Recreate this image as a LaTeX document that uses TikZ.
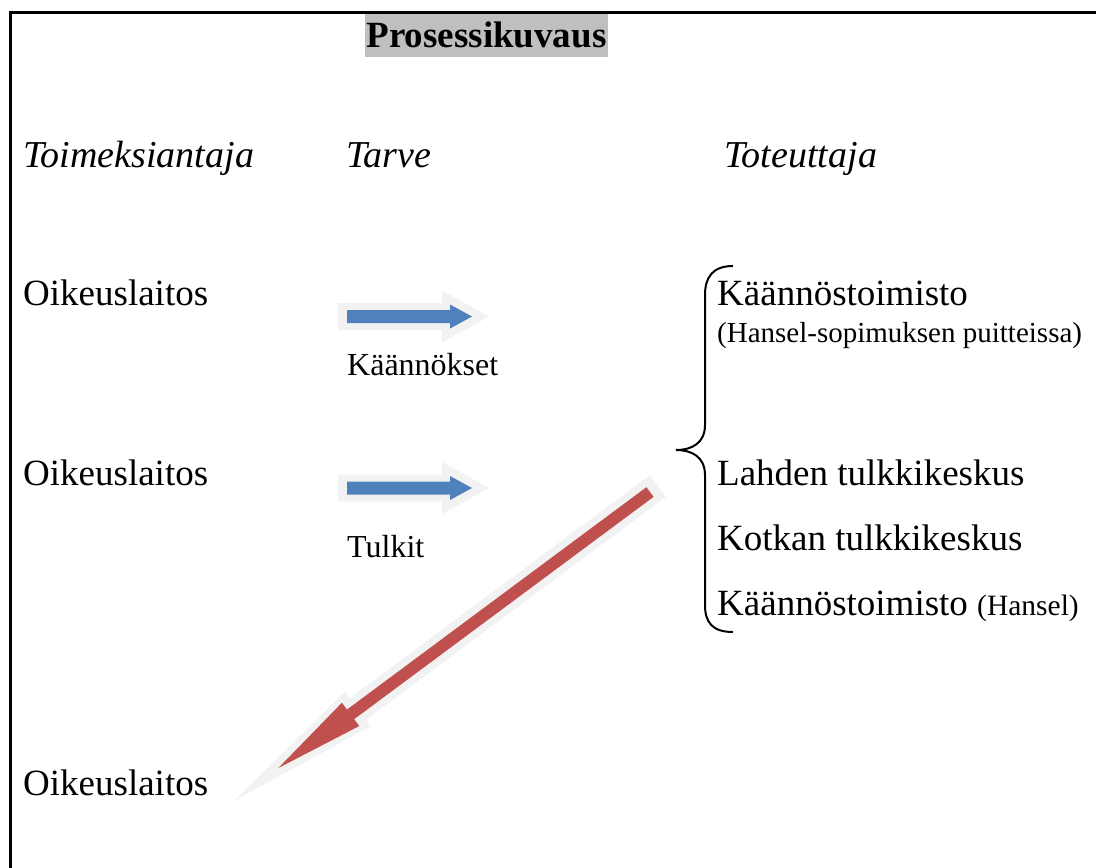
\documentclass[tikz,border=0pt]{standalone}
\usepackage{fontspec}
\setmainfont{Liberation Serif}
\usetikzlibrary{positioning}

\definecolor{arrowblue}{HTML}{4F81BD}
\definecolor{arrowred}{HTML}{C0504D}
\definecolor{glowgray}{HTML}{F2F2F2}
\definecolor{titlegray}{HTML}{BFBFBF}

\tikzset{
  txt/.style={anchor=base west, inner sep=0pt},
  bigtext/.style={txt, font=\fontsize{37}{44}\selectfont},
  headtext/.style={txt, font=\fontsize{38}{45}\selectfont\itshape},
  midtext/.style={txt, font=\fontsize{32}{38}\selectfont},
  smalltext/.style={txt, font=\fontsize{29}{35}\selectfont},
  % length, half shaft, half head, head length
  pics/blockarrow/.style n args={4}{code={
    \fill (0,-#2) -- ({#1-#4},-#2) -- ({#1-#4},-#3) -- (#1,0) -- ({#1-#4},#3) -- ({#1-#4},#2) -- (0,#2) -- cycle;
  }}
}

\begin{document}
\begin{tikzpicture}[x=1pt, y=-1pt]
\useasboundingbox (0,0) rectangle (1096,868);

% frame
\draw[line width=2.7pt] (10.7,868) -- (10.7,12.5) -- (1096,12.5);

% title
\node (title) [anchor=base, fill=titlegray, inner xsep=1.5pt, inner ysep=0pt, text height=33pt, text depth=10pt,
  font=\fontsize{37}{44}\selectfont\bfseries] at (486.5,47) {Prosessikuvaus};

% columns
\node (hclient) [headtext] at (23,167) {Toimeksiantaja};
\node (hneed) [headtext] at (346,167) {Tarve};
\node (hprov) [headtext] at (724,167) {Toteuttaja};

\node (client1) [bigtext] at (23,305) {Oikeuslaitos};
\node (client2) [bigtext] at (23,485) {Oikeuslaitos};
\node (client3) [bigtext] at (23,795) {Oikeuslaitos};

\node (need1) [midtext] at (347,375) {Käännökset};
\node (need2) [midtext] at (347,557) {Tulkit};

\node (prov1) [bigtext] at (717,305) {Käännöstoimisto};
\node (prov1b) [smalltext] at (717,342) {(Hansel-sopimuksen puitteissa)};
\node (prov2) [bigtext] at (717,485) {Lahden tulkkikeskus};
\node (prov3) [bigtext] at (717,550) {Kotkan tulkkikeskus};
\node (prov4) [bigtext] at (717,615) {Käännöstoimisto \fontsize{29.5}{35}\selectfont(Hansel)};

% brace
\draw[line width=2pt] (733,266) .. controls (712,266) and (705,278) .. (705,295) -- (705,425)
  .. controls (705,443) and (692,450) .. (676,450) .. controls (692,450) and (705,457) .. (705,475)
  -- (705,605) .. controls (705,622) and (712,632) .. (733,632);

% arrows
\pic[fill=glowgray] at (338,316.5) {blockarrow={151}{13.5}{26}{47}};
\pic[fill=arrowblue] at (347,316.5) {blockarrow={125}{6.5}{12}{22}};
\pic[fill=glowgray] at (338,488) {blockarrow={151}{13.5}{26}{47}};
\pic[fill=arrowblue] at (347,488) {blockarrow={125}{6.5}{12}{22}};

\pic[rotate=216.6, fill=glowgray] at (658,486) {blockarrow={527}{13.5}{21.6}{153}};
\pic[rotate=216.6, fill=arrowred] at (650,492) {blockarrow={463}{6}{14.5}{90}};
\end{tikzpicture}
\end{document}
